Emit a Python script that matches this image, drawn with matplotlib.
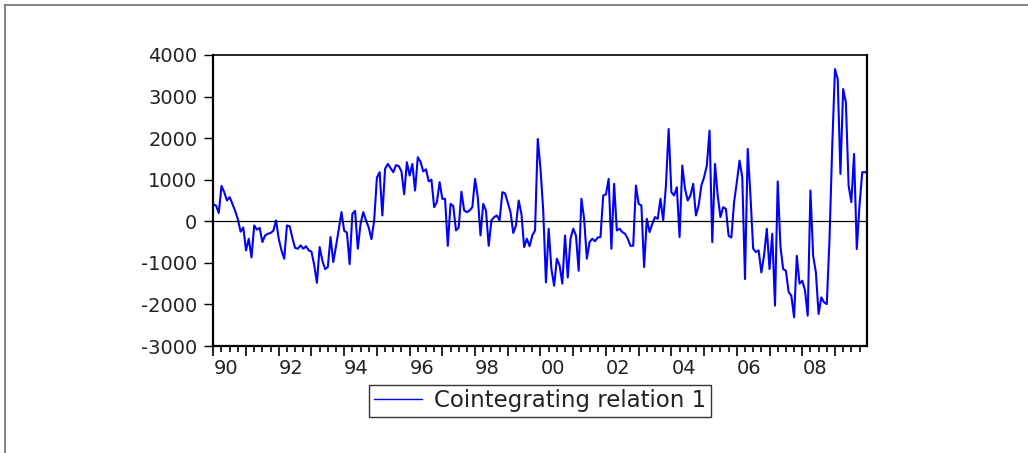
import matplotlib
matplotlib.use('Agg')
import matplotlib.pyplot as plt
from matplotlib.lines import Line2D
from matplotlib.ticker import MultipleLocator, FuncFormatter
import numpy as np

# Monthly values of the cointegrating relation (1990M1 - 2009M12)
rel_1990_94 = [400, 380, 200, 850, 700, 500, 580, 420, 250, 50, -250, -150,
               -700, -420, -870, -100, -200, -160, -500, -340, -300, -280, -230, 20,
               -420, -700, -900, -100, -120, -400, -640, -660, -580, -660, -600, -700,
               -730, -1050, -1480, -620, -950, -1150, -1100, -380, -980, -600, -200, 220,
               -230, -270, -1030, 180, 250, -660, -60, 220, 20, -150, -430, 20]
rel_1995_99 = [1050, 1180, 140, 1260, 1380, 1280, 1180, 1350, 1330, 1200, 650, 1420,
               1100, 1380, 740, 1540, 1430, 1200, 1250, 960, 1000, 340, 460, 940,
               540, 540, -590, 420, 370, -220, -150, 710, 260, 220, 260, 340,
               1020, 580, -340, 420, 260, -590, 20, 100, 140, 20, 700, 670,
               450, 220, -280, -100, 500, 180, -620, -420, -600, -340, -220, 1980]
rel_2000_04 = [1260, 260, -1470, -180, -1150, -1550, -900, -1060, -1500, -340, -1350, -420,
               -180, -340, -1190, 540, 60, -900, -500, -420, -480, -390, -380, 620,
               650, 1020, -660, 900, -220, -180, -260, -300, -420, -590, -590, 860,
               420, 380, -1100, 60, -260, -60, 100, 60, 540, 20, 860, 2220,
               700, 620, 820, -380, 1340, 780, 500, 620, 900, 140, 380, 860]
rel_2005_09 = [1060, 1340, 2180, -500, 1380, 620, 100, 340, 300, -350, -390, 460,
               940, 1460, 1060, -1390, 1740, 620, -660, -740, -700, -1230, -820, -180,
               -1150, -300, -2030, 960, -600, -1150, -1190, -1700, -1790, -2310, -830, -1500,
               -1430, -1660, -2270, 740, -830, -1230, -2230, -1830, -1950, -1990, -420, 1820,
               3660, 3420, 1140, 3180, 2860, 860, 460, 1620, -670, 380, 1180, 1180]

start_year = 1990
yticks = [-3000, -2000, -1000, 0, 1000, 2000, 3000, 4000]
series_name = 'Cointegrating relation 1'

values = rel_1990_94 + rel_1995_99 + rel_2000_04 + rel_2005_09
t = start_year + np.arange(len(values)) / 12.0

plt.rcParams['font.family'] = 'DejaVu Sans'

fig = plt.figure(figsize=(10.28, 4.53), dpi=100)
ax = fig.add_axes([0.2075, 0.2362, 0.6356, 0.6424])

ax.plot(t, values, color='#0000ff', lw=1.5)
ax.axhline(0, color='black', lw=0.9)

ax.set_xlim(1990, 2009.97)
ax.set_ylim(-3000, 4000)
ax.set_yticks(yticks)
ax.yaxis.set_major_formatter(FuncFormatter(lambda v, p: '%d' % v))

ax.xaxis.set_major_locator(MultipleLocator(1))
ax.xaxis.set_minor_locator(MultipleLocator(0.25))
ax.xaxis.set_major_formatter(FuncFormatter(
    lambda v, p: '%02d' % (int(round(v)) % 100) if int(round(v)) % 2 == 0 else ''))

ax.tick_params(axis='x', which='major', length=7, width=1.2, pad=2,
               labelsize=14, colors='black', labelcolor='#222222')
ax.tick_params(axis='x', which='minor', length=4, width=1.2)
ax.tick_params(axis='y', length=6.5, width=1.0, pad=5, labelsize=14,
               labelcolor='#222222')
plt.setp(ax.get_xticklabels(), ha='left')

for side in ['left', 'bottom', 'right', 'top']:
    ax.spines[side].set_linewidth(1.6)
ax.spines['top'].set_linewidth(1.2)

leg = fig.legend(loc='center', bbox_to_anchor=(0.5253, 0.115),
                 labels=[series_name],
                 handles=[Line2D([], [], color='#0000ff', lw=1.0)],
                 fontsize=16.5, frameon=True, fancybox=False, edgecolor='#333333',
                 framealpha=1, handlelength=2.1, handletextpad=0.55, borderpad=0.2,
                 borderaxespad=0)
leg.get_frame().set_linewidth(1.0)
for txt in leg.get_texts():
    txt.set_color('#222222')

# grey border lines around the figure
fig.add_artist(Line2D([0.005, 1.0], [0.989, 0.989], transform=fig.transFigure,
                      color='#707070', lw=1.2))
fig.add_artist(Line2D([0.005, 0.005], [0.0, 0.989], transform=fig.transFigure,
                      color='#707070', lw=1.2))

fig.savefig('out.png', dpi=100)
